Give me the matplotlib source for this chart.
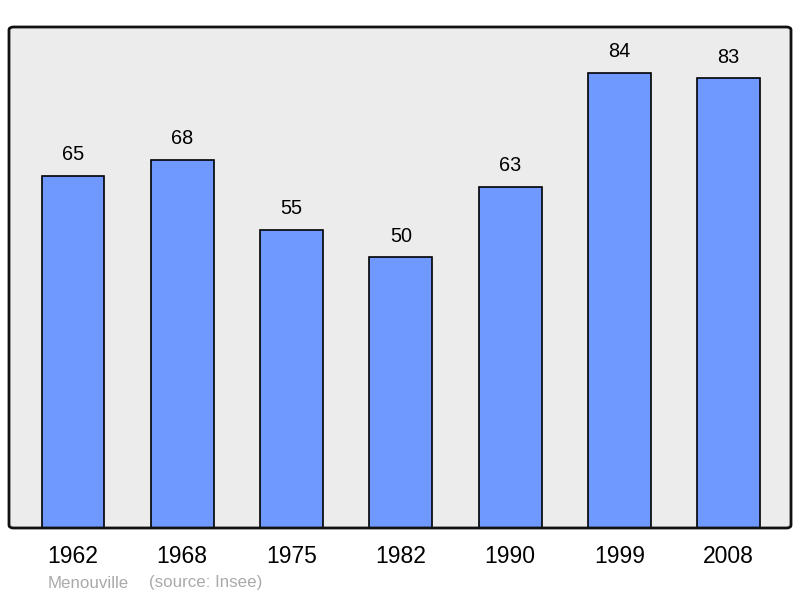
import matplotlib
matplotlib.use("Agg")
import matplotlib.pyplot as plt
from matplotlib.patches import FancyBboxPatch

# population data
years = ["1962", "1968", "1975", "1982", "1990", "1999", "2008"]
population = [65, 68, 55, 50, 63, 84, 83]
commune = "Menouville"
source = "(source: Insee)"

plt.rcParams['font.family'] = ['Liberation Sans', 'DejaVu Sans']

fig = plt.figure(figsize=(8, 5.98), dpi=100)
# axes box in pixels: x 9..791, y 27..528 (from top)
ax = fig.add_axes([9 / 800, 1 - 528 / 598, 782 / 800, 501 / 598])
ax.set_facecolor("#ececec")

x = list(range(len(years)))
ax.bar(x, population, width=0.575, color="#7099ff", edgecolor="black",
       linewidth=1.2, zorder=2)

# value above each bar
for xi, v in zip(x, population):
    ax.text(xi, v + 3.9, str(v), ha="center", va="center", fontsize=14.3)

ax.set_xlim(-0.585, 6.57)
ax.set_ylim(0, 92.5)
ax.set_yticks([])
ax.set_xticks(x)
ax.set_xticklabels(years, fontsize=16.5)
ax.tick_params(axis="x", length=0, pad=12.5)

for sp in ax.spines.values():
    sp.set_visible(False)
frame = FancyBboxPatch((0, 0), 1, 1, boxstyle="round,pad=0,rounding_size=0.006",
                       transform=ax.transAxes, facecolor="none",
                       edgecolor="#111111", linewidth=2, clip_on=False, zorder=5)
ax.add_patch(frame)

fig.text(48 / 800, 1 - 583 / 598, commune, color="#aaaaaa", fontsize=12.2, va="center")
fig.text(149 / 800, 1 - 583 / 598, source, color="#aaaaaa", fontsize=12.2, va="center")

fig.savefig("out.png", dpi=100)
